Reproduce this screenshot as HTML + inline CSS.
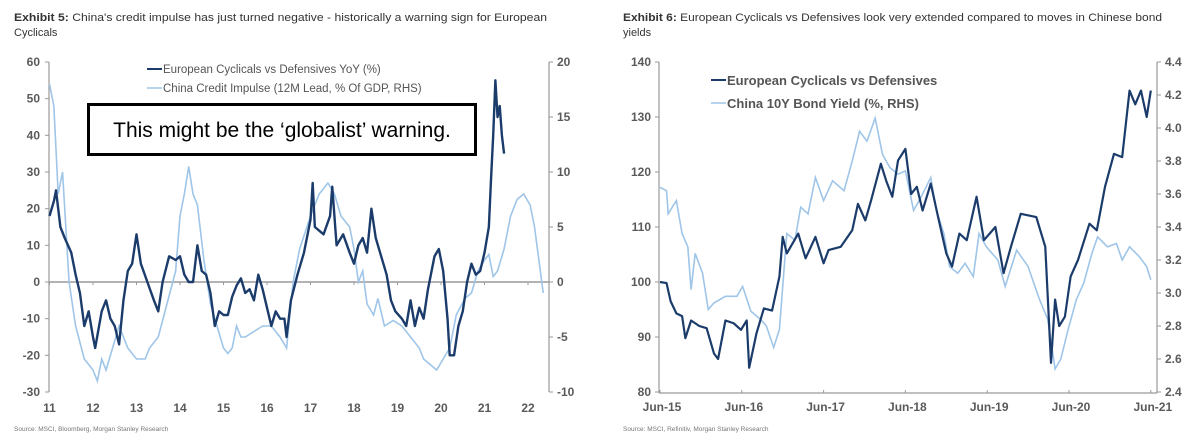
<!DOCTYPE html>
<html><head><meta charset="utf-8">
<style>
html,body{margin:0;padding:0;background:#fff;}
svg{display:block;font-family:"Liberation Sans",sans-serif;}
</style></head>
<body>
<svg id="c" width="1200" height="438" viewBox="0 0 1200 438">
<g font-size="11" fill="#333">
<text x="14" y="21" textLength="533" lengthAdjust="spacingAndGlyphs"><tspan font-weight="bold">Exhibit 5:</tspan> China's credit impulse has just turned negative - historically a warning sign for European</text>
<text x="14" y="36">Cyclicals</text>
</g>
<g font-size="11" fill="#333">
<text x="623" y="21" textLength="539" lengthAdjust="spacingAndGlyphs"><tspan font-weight="bold">Exhibit 6:</tspan> European Cyclicals vs Defensives look very extended compared to moves in Chinese bond</text>
<text x="623" y="36">yields</text>
</g>
<text x="14" y="431" font-size="6.5" fill="#777">Source: MSCI, Bloomberg, Morgan Stanley Research</text>
<text x="623" y="431" font-size="6.5" fill="#777">Source: MSCI, Refinitiv, Morgan Stanley Research</text>
<g id="L"></g>
<g id="R"></g>
</svg>
<script>
// ---------- Exhibit 5 data ----------
const lDarkT=[11.0,11.1,11.15,11.25,11.35,11.5,11.6,11.7,11.8,11.9,12.0,12.05,12.2,12.3,12.4,12.5,12.6,12.7,12.8,12.9,13.0,13.1,13.25,13.4,13.5,13.6,13.75,13.9,14.0,14.1,14.2,14.3,14.4,14.5,14.6,14.7,14.8,14.9,15.0,15.1,15.2,15.3,15.4,15.5,15.6,15.7,15.8,15.9,16.0,16.1,16.2,16.3,16.4,16.45,16.55,16.7,16.85,17.0,17.05,17.1,17.2,17.3,17.45,17.5,17.6,17.75,17.9,18.0,18.1,18.2,18.3,18.4,18.5,18.6,18.75,18.85,18.95,19.1,19.2,19.3,19.4,19.5,19.6,19.7,19.85,19.95,20.05,20.15,20.2,20.3,20.4,20.5,20.6,20.7,20.8,20.9,21.0,21.1,21.15,21.2,21.25,21.3,21.35,21.4,21.45];
const lDarkV=[18,22,25,15,12,8,2,-3,-12,-8,-15,-18,-8,-5,-10,-12,-17,-5,3,5,13,5,0,-5,-8,0,7,6,7,2,0,0,10,3,2,-3,-12,-8,-9,-9,-4,-1,1,-3,-2,-5,2,-2,-7,-12,-8,-10,-10,-15,-5,2,8,17,27,15,14,13,18,26,10,13,8,5,10,12,8,20,12,8,2,-5,-8,-10,-12,-5,-12,-7,-10,-2,7,9,3,-10,-20,-20,-12,-8,0,5,2,3,8,15,28,40,55,45,48,40,35];
const lLightT=[11.0,11.1,11.2,11.3,11.45,11.6,11.8,12.0,12.1,12.2,12.3,12.45,12.6,12.8,13.0,13.2,13.3,13.5,13.7,13.9,14.0,14.1,14.2,14.3,14.4,14.55,14.7,14.85,15.0,15.1,15.2,15.3,15.4,15.5,15.7,15.9,16.1,16.3,16.45,16.6,16.75,17.0,17.2,17.4,17.55,17.7,17.9,18.0,18.1,18.2,18.3,18.45,18.55,18.7,18.9,19.1,19.3,19.5,19.6,19.75,19.9,20.05,20.2,20.35,20.55,20.7,20.85,21.0,21.1,21.2,21.3,21.45,21.6,21.75,21.9,22.05,22.15,22.25,22.35];
const lLightV=[18,16,8,10,0,-4,-7,-8,-9,-7,-8,-6,-4,-6,-7,-7,-6,-5,-2,1,6,8,10.5,8,7,2,-2,-4,-6,-6.5,-6,-4,-5,-5,-4.5,-4,-4,-5,-6,0,3,6,8,9,8,6,5,3,0,1,-2,-3,-1.5,-4,-3.5,-4,-5,-6,-7,-7.5,-8,-7,-6,-3,-1.5,-1,1,2,2.5,0.5,1,3,6,7.5,8,7,5,2,-1];
const lLeftTicks=[60,50,40,30,20,10,0,-10,-20,-30];
const lRightTicks=[20,15,10,5,0,-5,-10];
const lYears=[11,12,13,14,15,16,17,18,19,20,21,22];
// ---------- Exhibit 6 data (t = years since Jun-15) ----------
const rDarkT=[0,0.08,0.13,0.2,0.27,0.31,0.38,0.48,0.57,0.66,0.71,0.8,0.9,0.99,1.06,1.09,1.18,1.27,1.37,1.46,1.5,1.55,1.69,1.78,1.9,2.0,2.06,2.21,2.35,2.42,2.51,2.58,2.7,2.77,2.84,2.91,3.0,3.07,3.14,3.21,3.31,3.4,3.5,3.57,3.66,3.75,3.87,3.96,4.1,4.2,4.29,4.41,4.6,4.71,4.78,4.83,4.88,4.95,5.02,5.11,5.25,5.34,5.44,5.55,5.65,5.74,5.81,5.88,5.95,6.0];
const rDarkV=[100,99.8,96.5,94.3,93.8,89.8,93,92,91.6,87,86,93,92.5,91.3,93,84.4,90.7,95.2,94.8,101,108.2,105.2,108.8,104.3,108.2,103.4,105.8,106.4,109.4,114.2,111.2,114.8,121.5,118.2,115.5,122.1,124.2,116,117.3,113,117.9,111.8,105.2,102.8,108.8,107.6,115.5,107.6,110,101.6,106.4,112.4,111.8,106.4,85.3,96.8,92,93.7,101,104,110.6,109.4,117.3,123.3,122.7,134.8,132.3,134.8,130,134.8];
const rLightT=[0,0.08,0.1,0.2,0.27,0.34,0.38,0.43,0.52,0.59,0.66,0.8,0.94,1.01,1.11,1.23,1.3,1.39,1.46,1.55,1.65,1.72,1.81,1.9,2.0,2.11,2.25,2.35,2.44,2.53,2.63,2.72,2.81,2.91,3.0,3.1,3.19,3.31,3.38,3.47,3.54,3.64,3.73,3.83,3.9,3.99,4.13,4.22,4.36,4.5,4.64,4.74,4.83,4.9,4.99,5.09,5.18,5.28,5.35,5.47,5.58,5.65,5.74,5.86,5.95,6.0];
const rLightV=[3.64,3.62,3.48,3.56,3.36,3.28,3.02,3.24,3.12,2.9,2.94,2.98,2.98,3.04,2.89,2.84,2.8,2.67,2.78,3.36,3.32,3.52,3.48,3.7,3.56,3.68,3.62,3.8,3.98,3.92,4.06,3.84,3.76,3.72,3.74,3.5,3.58,3.7,3.5,3.36,3.16,3.12,3.18,3.1,3.36,3.28,3.2,3.04,3.26,3.16,2.96,2.84,2.54,2.6,2.78,2.96,3.06,3.24,3.34,3.28,3.3,3.2,3.28,3.22,3.16,3.08];
const rLeftTicks=[140,130,120,110,100,90,80];
const rRightTicks=["4.4","4.2","4.0","3.8","3.6","3.4","3.2","3.0","2.8","2.6","2.4"];
const rXLabels=["Jun-15","Jun-16","Jun-17","Jun-18","Jun-19","Jun-20","Jun-21"];

const NS="http://www.w3.org/2000/svg";
function mk(p,tag,at,txt){const e=document.createElementNS(NS,tag);for(const k in at)e.setAttribute(k,at[k]);if(txt!==undefined)e.textContent=txt;p.appendChild(e);return e;}
const DARK="#1b3c6b",LIGHT="#9fc5e8",AX="#9a9a9a",LBL="#5a5a5a";

// ----- Left chart -----
const L=document.getElementById('L');
const lx=y=>49.5+(y-11)*43.5;
const ly=v=>282-v*(330/90);
const lyr=v=>282-v*11;
let e;
e=mk(L,'line',{x1:49,y1:62,x2:49,y2:392,stroke:AX,'stroke-width':1.2});


e=mk(L,'line',{x1:549,y1:62,x2:549,y2:392,stroke:AX,'stroke-width':1.2});


e=mk(L,'line',{x1:49,y1:282,x2:549,y2:282,stroke:AX,'stroke-width':1.5});


lLeftTicks.forEach(v=>{mk(L,'line',{x1:45,y1:ly(v),x2:49,y2:ly(v),stroke:AX});
 e=mk(L,'text',{x:40,y:ly(v)+4,'text-anchor':'end','font-size':12,'font-weight':'bold',fill:LBL},v);
 
 });
lRightTicks.forEach(v=>{mk(L,'line',{x1:549,y1:lyr(v),x2:553,y2:lyr(v),stroke:AX});
 e=mk(L,'text',{x:557,y:lyr(v)+4,'font-size':12,'font-weight':'bold',fill:LBL},v);
 
 });
lYears.forEach(y=>{mk(L,'line',{x1:lx(y),y1:282,x2:lx(y),y2:285,stroke:AX});
 e=mk(L,'text',{x:lx(y),y:412,'text-anchor':'middle','font-size':12,'font-weight':'bold',fill:LBL},y);
 
 });
e=mk(L,'polyline',{points:lLightT.map((t,i)=>lx(t)+','+lyr(lLightV[i])).join(' '),fill:'none',stroke:LIGHT,'stroke-width':1.6});


e=mk(L,'polyline',{points:lDarkT.map((t,i)=>lx(t)+','+ly(lDarkV[i])).join(' '),fill:'none',stroke:DARK,'stroke-width':2.4,'stroke-linejoin':'round'});


mk(L,'line',{x1:147,y1:69,x2:162,y2:69,stroke:DARK,'stroke-width':2});
e=mk(L,'text',{x:163,y:73,'font-size':11.5,fill:'#555'},'European Cyclicals vs Defensives YoY (%)');


mk(L,'line',{x1:147,y1:88,x2:162,y2:88,stroke:LIGHT,'stroke-width':1.5});
e=mk(L,'text',{x:163,y:92,'font-size':11.5,fill:'#555'},'China Credit Impulse (12M Lead, % Of GDP, RHS)');


e=mk(L,'rect',{x:88.5,y:104.5,width:387,height:50,fill:'#fff',stroke:'#000','stroke-width':3});


e=mk(L,'text',{x:282,y:137,'text-anchor':'middle','font-size':21,fill:'#000'},'This might be the \u2018globalist\u2019 warning.');



// ----- Right chart -----
const R=document.getElementById('R');
const rx=t=>660+t*81.8;
const ry=v=>62+(140-v)*5.5;
const ryr=v=>62+(4.4-v)*165;
e=mk(R,'line',{x1:659,y1:62,x2:659,y2:393,stroke:AX,'stroke-width':1.2});


e=mk(R,'line',{x1:1157,y1:62,x2:1157,y2:393,stroke:AX,'stroke-width':1.2});


e=mk(R,'line',{x1:659,y1:393,x2:1157,y2:393,stroke:AX,'stroke-width':1.2});


rLeftTicks.forEach(v=>{mk(R,'line',{x1:655,y1:ry(v),x2:659,y2:ry(v),stroke:AX});
 e=mk(R,'text',{x:651,y:ry(v)+4,'text-anchor':'end','font-size':12,'font-weight':'bold',fill:LBL},v);
 
 });
rRightTicks.forEach(s=>{const v=parseFloat(s);mk(R,'line',{x1:1157,y1:ryr(v),x2:1161,y2:ryr(v),stroke:AX});
 e=mk(R,'text',{x:1165,y:ryr(v)+4,'font-size':12,'font-weight':'bold',fill:LBL},s);
 
 });
rXLabels.forEach((s,i)=>{mk(R,'line',{x1:rx(i),y1:390,x2:rx(i),y2:393,stroke:AX});
 e=mk(R,'text',{x:rx(i)+2,y:411,'text-anchor':'middle','font-size':12,'font-weight':'bold',fill:LBL},s);
 
 });
e=mk(R,'polyline',{points:rLightT.map((t,i)=>rx(t)+','+ryr(rLightV[i])).join(' '),fill:'none',stroke:LIGHT,'stroke-width':1.6});


e=mk(R,'polyline',{points:rDarkT.map((t,i)=>rx(t)+','+ry(rDarkV[i])).join(' '),fill:'none',stroke:DARK,'stroke-width':2.2,'stroke-linejoin':'round'});


mk(R,'line',{x1:711,y1:80,x2:726,y2:80,stroke:DARK,'stroke-width':2});
e=mk(R,'text',{x:727,y:85,'font-size':13,'font-weight':'bold',fill:'#555'},'European Cyclicals vs Defensives');


mk(R,'line',{x1:711,y1:103,x2:726,y2:103,stroke:LIGHT,'stroke-width':1.5});
e=mk(R,'text',{x:727,y:108,'font-size':13,'font-weight':'bold',fill:'#555'},'China 10Y Bond Yield (%, RHS)');


</script>
</body></html>
